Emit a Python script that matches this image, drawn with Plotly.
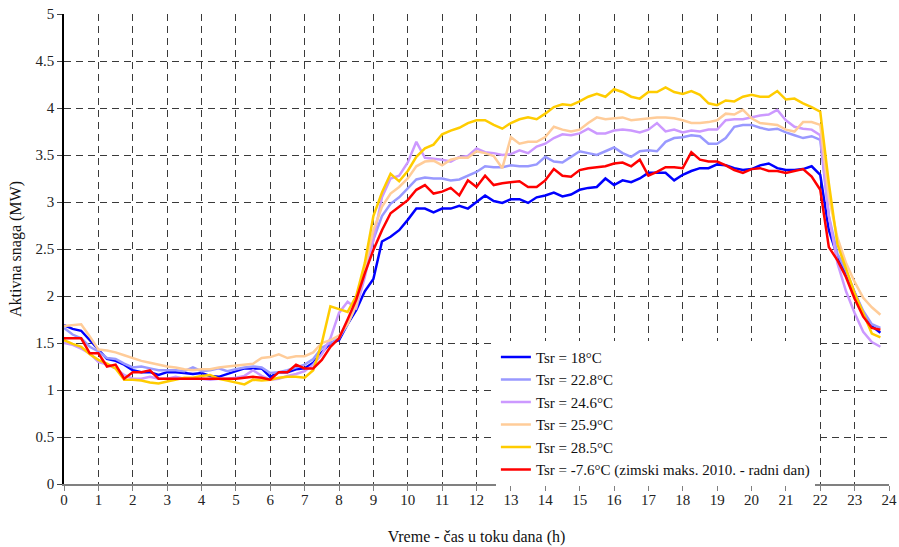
import plotly.graph_objects as go

# Time of day (h), 15-minute steps
hours = [i / 4 for i in range(96)]

t18 = [1.69, 1.65, 1.63, 1.53, 1.42, 1.33, 1.31, 1.27,
       1.21, 1.19, 1.19, 1.16, 1.19, 1.19, 1.18, 1.17,
       1.18, 1.15, 1.14, 1.17, 1.20, 1.23, 1.23, 1.23,
       1.14, 1.19, 1.19, 1.22, 1.23, 1.29, 1.40, 1.50,
       1.53, 1.70, 1.85, 2.05, 2.18, 2.58, 2.63, 2.70,
       2.81, 2.93, 2.93, 2.89, 2.93, 2.93, 2.96, 2.93,
       3.00, 3.07, 3.01, 2.99, 3.03, 3.03, 2.99, 3.05,
       3.07, 3.10, 3.06, 3.08, 3.13, 3.15, 3.16, 3.25,
       3.18, 3.23, 3.21, 3.25, 3.31, 3.31, 3.31, 3.23,
       3.29, 3.33, 3.36, 3.36, 3.40, 3.39, 3.36, 3.34,
       3.35, 3.39, 3.41, 3.36, 3.34, 3.34, 3.35, 3.38,
       3.29, 2.70, 2.42, 2.25, 2.03, 1.82, 1.68, 1.61]

t22_8 = [1.66, 1.59, 1.55, 1.46, 1.41, 1.34, 1.33, 1.28,
         1.24, 1.25, 1.23, 1.21, 1.21, 1.21, 1.20, 1.24,
         1.20, 1.21, 1.23, 1.20, 1.22, 1.24, 1.25, 1.24,
         1.18, 1.19, 1.21, 1.24, 1.27, 1.33, 1.45, 1.50,
         1.55, 1.70, 1.90, 2.25, 2.60, 2.85, 2.98, 3.05,
         3.15, 3.24, 3.26, 3.25, 3.25, 3.23, 3.24, 3.28,
         3.32, 3.38, 3.37, 3.37, 3.39, 3.38, 3.38, 3.40,
         3.48, 3.43, 3.42, 3.48, 3.54, 3.52, 3.50, 3.54,
         3.58, 3.52, 3.48, 3.54, 3.55, 3.54, 3.64, 3.68,
         3.69, 3.71, 3.70, 3.62, 3.62, 3.68, 3.80, 3.82,
         3.82, 3.79, 3.77, 3.78, 3.74, 3.71, 3.68, 3.70,
         3.66, 2.85, 2.45, 2.27, 2.04, 1.84, 1.70, 1.66]

t24_6 = [1.50, 1.48, 1.44, 1.39, 1.30, 1.27, 1.23, 1.16,
         1.12, 1.12, 1.14, 1.12, 1.12, 1.14, 1.12, 1.12,
         1.12, 1.11, 1.12, 1.12, 1.13, 1.15, 1.21, 1.15,
         1.11, 1.12, 1.15, 1.17, 1.20, 1.27, 1.38, 1.55,
         1.82, 1.94, 1.87, 2.20, 2.60, 3.05, 3.25, 3.28,
         3.42, 3.64, 3.47, 3.46, 3.45, 3.43, 3.48, 3.49,
         3.57, 3.53, 3.52, 3.50, 3.51, 3.55, 3.52, 3.59,
         3.62, 3.68, 3.72, 3.71, 3.73, 3.78, 3.73, 3.73,
         3.76, 3.77, 3.76, 3.74, 3.77, 3.84, 3.75, 3.77,
         3.74, 3.76, 3.75, 3.77, 3.77, 3.87, 3.88, 3.88,
         3.90, 3.92, 3.93, 3.98, 3.87, 3.80, 3.78, 3.77,
         3.71, 2.85, 2.35, 2.05, 1.82, 1.62, 1.51, 1.46]

t25_9 = [1.68, 1.69, 1.70, 1.57, 1.43, 1.42, 1.40, 1.37,
         1.34, 1.31, 1.29, 1.27, 1.25, 1.24, 1.22, 1.21,
         1.22, 1.22, 1.24, 1.25, 1.26, 1.27, 1.28, 1.34,
         1.35, 1.38, 1.34, 1.36, 1.36, 1.40, 1.50, 1.53,
         1.58, 1.70, 1.90, 2.30, 2.70, 2.95, 3.09, 3.16,
         3.25, 3.38, 3.43, 3.44, 3.39, 3.45, 3.47, 3.47,
         3.54, 3.52, 3.49, 3.36, 3.69, 3.62, 3.64, 3.64,
         3.69, 3.80, 3.77, 3.75, 3.77, 3.84, 3.90, 3.88,
         3.89, 3.90, 3.87, 3.88, 3.89, 3.90, 3.90, 3.89,
         3.87, 3.84, 3.84, 3.85, 3.87, 3.94, 3.93, 3.98,
         3.89, 3.84, 3.83, 3.82, 3.77, 3.75, 3.85, 3.85,
         3.82, 3.05, 2.62, 2.35, 2.15, 1.98, 1.88, 1.80]

t28_5 = [1.53, 1.49, 1.46, 1.38, 1.32, 1.28, 1.23, 1.11,
         1.11, 1.10, 1.08, 1.07, 1.09, 1.11, 1.13, 1.13,
         1.15, 1.16, 1.12, 1.10, 1.08, 1.06, 1.11, 1.10,
         1.11, 1.13, 1.14, 1.14, 1.13, 1.21, 1.50, 1.89,
         1.86, 1.83, 2.00, 2.35, 2.85, 3.10, 3.30, 3.22,
         3.33, 3.48, 3.57, 3.61, 3.72, 3.76, 3.79, 3.84,
         3.87, 3.87, 3.82, 3.78, 3.84, 3.88, 3.90, 3.88,
         3.94, 4.01, 4.04, 4.03, 4.07, 4.12, 4.15, 4.12,
         4.20, 4.17, 4.12, 4.10, 4.17, 4.17, 4.22, 4.17,
         4.15, 4.18, 4.14, 4.05, 4.03, 4.08, 4.07, 4.12,
         4.14, 4.12, 4.12, 4.18, 4.09, 4.10, 4.05, 4.01,
         3.96, 3.20, 2.55, 2.28, 2.03, 1.82, 1.60, 1.56]

t_winter = [1.55, 1.55, 1.55, 1.39, 1.39, 1.25, 1.27, 1.12,
            1.19, 1.19, 1.21, 1.12, 1.12, 1.12, 1.12, 1.12,
            1.12, 1.12, 1.12, 1.12, 1.12, 1.13, 1.14, 1.13,
            1.11, 1.19, 1.19, 1.27, 1.23, 1.23, 1.32, 1.46,
            1.55, 1.75, 1.96, 2.24, 2.49, 2.70, 2.88, 2.95,
            3.02, 3.13, 3.18, 3.09, 3.11, 3.15, 3.07, 3.23,
            3.16, 3.28, 3.18, 3.20, 3.21, 3.22, 3.16, 3.16,
            3.23, 3.35, 3.28, 3.27, 3.34, 3.36, 3.37, 3.38,
            3.41, 3.42, 3.38, 3.45, 3.28, 3.32, 3.37, 3.37,
            3.36, 3.53, 3.45, 3.43, 3.43, 3.39, 3.34, 3.31,
            3.35, 3.36, 3.33, 3.33, 3.31, 3.33, 3.35, 3.27,
            3.13, 2.52, 2.38, 2.20, 1.97, 1.78, 1.66, 1.64]

series_names = ["Tsr = 18°C", "Tsr = 22.8°C", "Tsr = 24.6°C", "Tsr = 25.9°C",
                "Tsr = 28.5°C", "Tsr = -7.6°C (zimski maks. 2010. - radni dan)"]
series_values = [t18, t22_8, t24_6, t25_9, t28_5, t_winter]
series_colors = ["#0000FF", "#9999FF", "#CC99FF", "#FFCC99", "#FFCC00", "#FF0000"]

x_ticks = list(range(0, 25))
y_ticks = [0, 0.5, 1, 1.5, 2, 2.5, 3, 3.5, 4, 4.5, 5]

FONT = "Liberation Serif, Times New Roman, serif"

fig = go.Figure()
for name, vals, col in zip(series_names, series_values, series_colors):
    fig.add_trace(go.Scatter(x=hours, y=vals, mode="lines", name=name,
                             line=dict(color=col, width=2.5)))

fig.update_layout(
    width=899, height=547,
    margin=dict(l=64, r=10, t=14, b=63),
    paper_bgcolor="white", plot_bgcolor="white",
    font=dict(family=FONT, size=15, color="#222222"),
    showlegend=True,
    legend=dict(x=0.5235, y=0.305, xanchor="left", yanchor="top",
                bgcolor="white", borderwidth=0,
                font=dict(family=FONT, size=15, color="#111111"),
                itemwidth=30, tracegroupgap=0),
    xaxis=dict(range=[0, 24], tickmode="array", tickvals=x_ticks,
               ticktext=[str(v) for v in x_ticks], automargin=False,
               showgrid=True, gridcolor="#3a3a3a", gridwidth=1, griddash="7px,5px",
               zeroline=False, showline=True, linecolor="#808080", linewidth=2,
               ticks="outside", ticklen=5, tickcolor="#808080",
               ticklabelstandoff=-4,
               tickfont=dict(family=FONT, size=15, color="#222222"),
               title=dict(text="Vreme - čas u toku dana (h)",
                          font=dict(family=FONT, size=16, color="#111111"), standoff=24)),
    yaxis=dict(range=[0, 5], tickmode="array", tickvals=y_ticks,
               ticktext=[("%g" % v) for v in y_ticks], automargin=False,
               showgrid=True, gridcolor="#3a3a3a", gridwidth=1, griddash="7px,5px",
               zeroline=False, showline=True, linecolor="#000000", linewidth=1.5,
               ticks="outside", ticklen=5, tickcolor="#444444",
               tickfont=dict(family=FONT, size=15, color="#222222"),
               title=dict(text="Aktivna snaga (MW)",
                          font=dict(family=FONT, size=16, color="#111111"), standoff=10)),
)

fig.write_html("out.html", config={"displayModeBar": False},
               post_script="document.body.style.margin='0px';")
